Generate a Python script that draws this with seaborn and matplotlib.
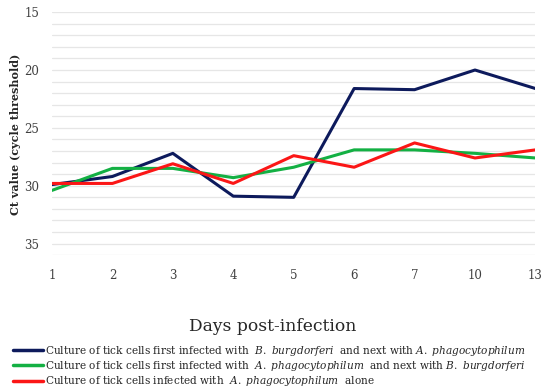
import numpy as np
import pandas as pd
import matplotlib.pyplot as plt
import seaborn as sns

# values
days = ["1", "2", "3", "4", "5", "6", "7", "10", "13"]
bb_then_ap = [29.9, 29.2, 27.2, 30.9, 31.0, 21.6, 21.7, 20.0, 21.6]
ap_then_bb = [30.4, 28.5, 28.5, 29.3, 28.4, 26.9, 26.9, 27.2, 27.6]
ap_alone = [29.8, 29.8, 28.1, 29.8, 27.4, 28.4, 26.3, 27.6, 26.9]

labels = [
    r"Culture of tick cells first infected with  $\it{B.\ burgdorferi}$  and next with $\it{A.\ phagocytophilum}$",
    r"Culture of tick cells first infected with  $\it{A.\ phagocytophilum}$  and next with $\it{B.\ burgdorferi}$",
    r"Culture of tick cells infected with  $\it{A.\ phagocytophilum}$  alone",
]
colors = ["#0d1a5c", "#13b043", "#fb1616"]

df = pd.DataFrame({
    "day": days * 3,
    "ct": bb_then_ap + ap_then_bb + ap_alone,
    "group": [labels[0]] * 9 + [labels[1]] * 9 + [labels[2]] * 9,
})

sns.set_style("white")
plt.rcParams["font.family"] = ["DejaVu Serif"]
plt.rcParams["mathtext.fontset"] = "dejavuserif"

fig = plt.figure(figsize=(5.5, 3.92), dpi=100)
ax = fig.add_axes([0.0945, 0.349, 0.879, 0.62])

sns.lineplot(data=df, x="day", y="ct", hue="group", palette=colors,
             sort=False, linewidth=2.2, ax=ax, legend=False)

ax.set_xlim(0, len(days) - 1)
ax.set_ylim(36, 15)
ax.set_yticks(np.arange(15, 36, 5))
ax.set_yticks(np.arange(15, 37, 1), minor=True)
ax.grid(True, axis="y", which="both", color="#e6e6e6", linewidth=0.9)
ax.set_axisbelow(True)
for s in ax.spines.values():
    s.set_visible(False)
ax.tick_params(axis="both", length=0, labelsize=8.5, colors="#404040")
ax.tick_params(axis="x", pad=10)
ax.tick_params(axis="y", pad=9)

ax.set_xlabel("")
ax.set_ylabel("")
fig.text(0.495, 0.168, "Days post-infection", fontsize=12.3, ha="center", va="center")
fig.text(0.028, 0.658, "Ct value (cycle threshold)", fontsize=8, fontweight="bold",
         rotation=90, ha="center", va="center")

handles = [plt.Line2D([], [], color=c, linewidth=2.5) for c in colors]
fig.legend(handles, labels, loc="lower left", bbox_to_anchor=(0.008, -0.012),
           frameon=False, fontsize=7.6, handlelength=2.9, handletextpad=0.1,
           labelspacing=0.12, borderpad=0.3)

fig.savefig("out.png", dpi=100)
